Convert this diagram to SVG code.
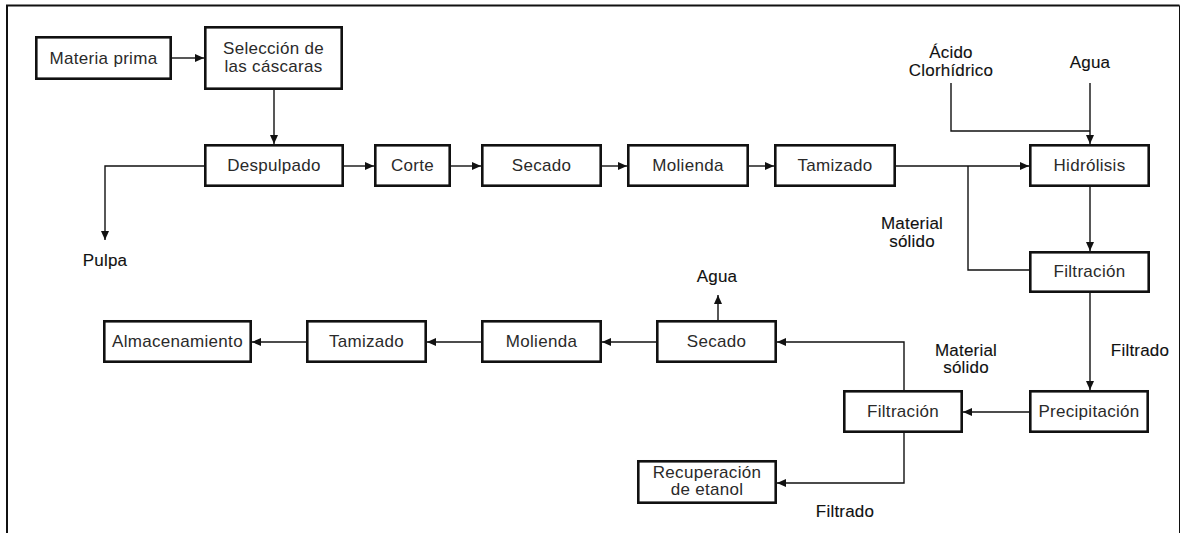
<svg xmlns="http://www.w3.org/2000/svg" width="1181" height="533" viewBox="0 0 1181 533">
  <style>
    .box { fill: #ffffff; stroke: #111111; stroke-width: 2.6; }
    .t { font-family: "Liberation Sans", Arial, sans-serif; font-size: 17px; letter-spacing: 0.3px; fill: #2a2a2a; text-anchor: middle; }
    .lbl { font-family: "Liberation Sans", Arial, sans-serif; font-size: 17px; letter-spacing: 0.2px; fill: #111111; text-anchor: middle; stroke: #111111; stroke-width: 0.12; }
    .ln { fill: none; stroke: #111111; stroke-width: 1.4; }
    .arr { marker-end: url(#ah); }
  </style>
  <defs>
    <marker id="ah" markerUnits="userSpaceOnUse" markerWidth="9" markerHeight="8" refX="9" refY="4" orient="auto">
      <path d="M0,0 L9,4 L0,8 Z" fill="#111111"/>
    </marker>
  </defs>

  <rect width="1181" height="533" fill="#ffffff"/>
  <!-- page frame -->
  <path d="M7,533 V5.5 H1179.5" fill="none" stroke="#111111" stroke-width="2"/>
  <path d="M1179.5,5.5 V533" fill="none" stroke="#111111" stroke-width="1"/>

  <!-- connectors -->
  <g id="connectors">
    <path class="ln arr" d="M172,58 H204"/>
    <path class="ln arr" d="M274,90 V144"/>
    <path class="ln arr" d="M204,166 H105 V240"/>
    <path class="ln arr" d="M344,166 H374"/>
    <path class="ln arr" d="M451,166 H481"/>
    <path class="ln arr" d="M602,166 H627"/>
    <path class="ln arr" d="M749,166 H774"/>
    <path class="ln arr" d="M896,166 H1029"/>
    <path class="ln" d="M968,166 V270 H1029"/>
    <path class="ln" d="M951,83 V131 H1090"/>
    <path class="ln arr" d="M1090,83 V144"/>
    <path class="ln arr" d="M1090,186 V251"/>
    <path class="ln arr" d="M1090,293 V390"/>
    <path class="ln arr" d="M1029,412 H963"/>
    <path class="ln arr" d="M904,390 V342 H777"/>
    <path class="ln arr" d="M904,433 V483 H777"/>
    <path class="ln arr" d="M718,320 V295"/>
    <path class="ln arr" d="M656,342 H602"/>
    <path class="ln arr" d="M481,342 H427"/>
    <path class="ln arr" d="M306,342 H252"/>
  </g>

  <!-- process steps -->
  <g id="materia-prima">
    <rect class="box" x="36.3" y="37.3" width="134.4" height="41.4"/>
    <text class="t" x="103.5" y="63.5">Materia prima</text>
  </g>
  <g id="seleccion">
    <rect class="box" x="205.3" y="27.3" width="136.4" height="61.4"/>
    <text class="t" x="273.5" y="54">Selección de</text>
    <text class="t" x="273.5" y="72">las cáscaras</text>
  </g>
  <g id="despulpado">
    <rect class="box" x="205.3" y="145.3" width="137.4" height="40.4"/>
    <text class="t" x="274" y="170.5">Despulpado</text>
  </g>
  <g id="corte">
    <rect class="box" x="375.3" y="145.3" width="74.4" height="40.4"/>
    <text class="t" x="412.5" y="170.5">Corte</text>
  </g>
  <g id="secado-1">
    <rect class="box" x="482.3" y="145.3" width="118.4" height="40.4"/>
    <text class="t" x="541.5" y="170.5">Secado</text>
  </g>
  <g id="molienda-1">
    <rect class="box" x="628.3" y="145.3" width="119.4" height="40.4"/>
    <text class="t" x="688" y="170.5">Molienda</text>
  </g>
  <g id="tamizado-1">
    <rect class="box" x="775.3" y="145.3" width="119.4" height="40.4"/>
    <text class="t" x="835" y="170.5">Tamizado</text>
  </g>
  <g id="hidrolisis">
    <rect class="box" x="1030.3" y="145.3" width="118.4" height="40.4"/>
    <text class="t" x="1089.5" y="170.5">Hidrólisis</text>
  </g>
  <g id="filtracion-1">
    <rect class="box" x="1030.3" y="252.3" width="118.4" height="39.4"/>
    <text class="t" x="1089.5" y="277">Filtración</text>
  </g>
  <g id="precipitacion">
    <rect class="box" x="1030.3" y="391.3" width="117.4" height="40.4"/>
    <text class="t" x="1089" y="417">Precipitación</text>
  </g>
  <g id="filtracion-2">
    <rect class="box" x="844.3" y="391.3" width="117.4" height="40.4"/>
    <text class="t" x="903" y="417">Filtración</text>
  </g>
  <g id="recuperacion-etanol">
    <rect class="box" x="638.3" y="461.3" width="137.4" height="41.4"/>
    <text class="t" x="707" y="478">Recuperación</text>
    <text class="t" x="707" y="495">de etanol</text>
  </g>
  <g id="secado-2">
    <rect class="box" x="657.3" y="321.3" width="118.4" height="40.4"/>
    <text class="t" x="716.5" y="347">Secado</text>
  </g>
  <g id="molienda-2">
    <rect class="box" x="482.3" y="321.3" width="118.4" height="40.4"/>
    <text class="t" x="541.5" y="347">Molienda</text>
  </g>
  <g id="tamizado-2">
    <rect class="box" x="307.3" y="321.3" width="118.4" height="40.4"/>
    <text class="t" x="366.5" y="347">Tamizado</text>
  </g>
  <g id="almacenamiento">
    <rect class="box" x="104.3" y="321.3" width="146.4" height="40.4"/>
    <text class="t" x="177.5" y="347">Almacenamiento</text>
  </g>

  <!-- stream labels -->
  <g id="labels">
    <text class="lbl" x="105" y="266">Pulpa</text>
    <text class="lbl" x="951" y="58">Ácido</text>
    <text class="lbl" x="951" y="76">Clorhídrico</text>
    <text class="lbl" x="1090" y="68">Agua</text>
    <text class="lbl" x="912" y="229">Material</text>
    <text class="lbl" x="912" y="247">sólido</text>
    <text class="lbl" x="1140" y="356">Filtrado</text>
    <text class="lbl" x="966" y="356">Material</text>
    <text class="lbl" x="966" y="373">sólido</text>
    <text class="lbl" x="845" y="517">Filtrado</text>
    <text class="lbl" x="717" y="282">Agua</text>
  </g>
</svg>
